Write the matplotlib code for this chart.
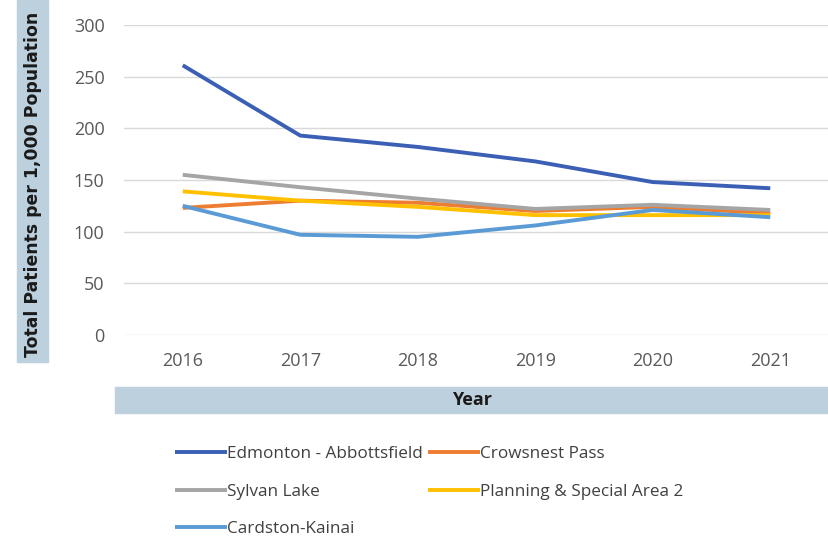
import matplotlib
matplotlib.use("Agg")
import matplotlib.pyplot as plt
from matplotlib.patches import Rectangle

years = ["2016", "2017", "2018", "2019", "2020", "2021"]
series_names = ["Edmonton - Abbottsfield", "Crowsnest Pass", "Sylvan Lake",
                "Planning & Special Area 2", "Cardston-Kainai"]
edmonton = [261, 193, 182, 168, 148, 142]
crowsnest = [123, 130, 128, 120, 124, 118]
sylvan = [155, 143, 132, 122, 126, 121]
planning = [139, 130, 124, 116, 116, 116]
cardston = [125, 97, 95, 106, 121, 114]
y_ticks = [0, 50, 100, 150, 200, 250, 300]

colors = ["#3A5FB5", "#ED7D31", "#A5A5A5", "#FFC000", "#5B9BD5"]
values = [edmonton, crowsnest, sylvan, planning, cardston]

narrow = "Open Sans"

fig = plt.figure(figsize=(8.29, 5.36), dpi=100)
ax = fig.add_axes([124 / 829, 1 - 335 / 536, 1 - 124 / 829, (335 - 25) / 536])

x = list(range(len(years)))
lines = []
for name, vals, c in zip(series_names, values, colors):
    ln, = ax.plot(x, vals, color=c, lw=2.8, solid_capstyle="butt", label=name)
    lines.append(ln)

ax.set_xlim(-0.5, len(years) - 0.5)
ax.set_ylim(0, 300)
ax.set_yticks(y_ticks)
ax.set_xticks(x)
ax.set_xticklabels(years)
for s in ax.spines.values():
    s.set_visible(False)
ax.grid(axis="y", color="#D9D9D9", lw=1)
ax.set_axisbelow(True)
ax.tick_params(length=0, colors="#595959", labelsize=13)
ax.tick_params(axis="y", pad=14)
ax.tick_params(axis="x", pad=12)
for lab in ax.get_xticklabels() + ax.get_yticklabels():
    lab.set_fontfamily(narrow)

# y label box
fig.patches.append(Rectangle((17 / 829, 1 - 362 / 536), 31 / 829, 362 / 536,
                             transform=fig.transFigure, color="#BCD0DD", zorder=0))
fig.text(33 / 829, 1 - 184 / 536, "Total Patients per 1,000 Population", rotation=90,
         ha="center", va="center", fontsize=12.4, fontweight="bold", color="#1a1a1a",
         family="DejaVu Sans")

# x label band
fig.patches.append(Rectangle((115 / 829, 1 - 413 / 536), 714 / 829, 26 / 536,
                             transform=fig.transFigure, color="#BCD0DD", zorder=0))
fig.text((115 + 829) / 2 / 829, 1 - 400 / 536, "Year", ha="center", va="center",
         fontsize=13, fontweight="bold", color="#1a1a1a", family=narrow)

order = [0, 2, 4, 1, 3]
leg = fig.legend([lines[i] for i in order], [series_names[i] for i in order],
                 ncol=2, loc="upper left", bbox_to_anchor=(160 / 829, 1 - 431 / 536),
                 frameon=False, handlelength=3.0, handletextpad=0.05,
                 columnspacing=0.3, labelspacing=1.25,
                 prop={"family": narrow, "size": 12.3})
for t in leg.get_texts():
    t.set_color("#404040")

fig.savefig("out.png", dpi=100)
